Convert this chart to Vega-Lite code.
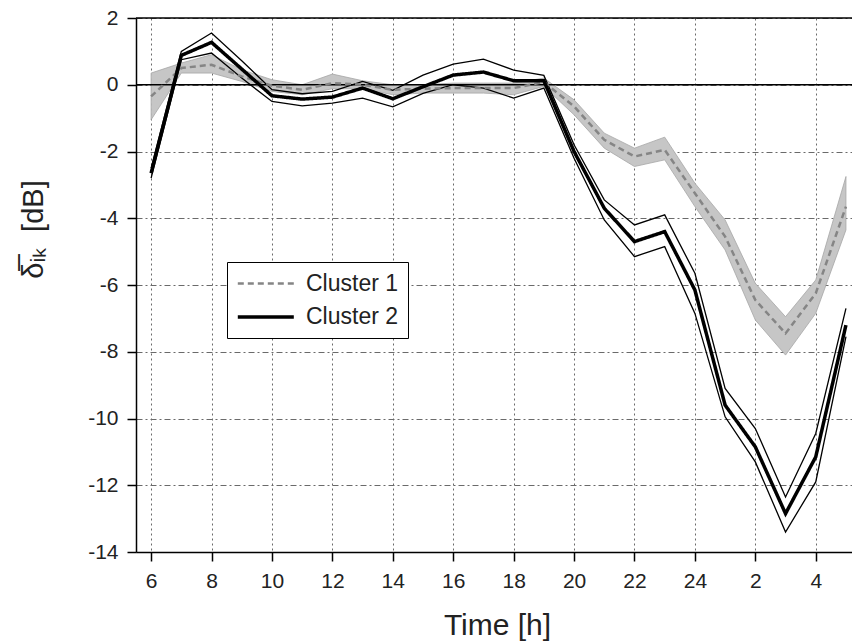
{
  "$schema": "https://vega.github.io/schema/vega-lite/v6.json",
  "width": 716,
  "height": 534,
  "autosize": {"type": "none"},
  "padding": {"left": 136, "top": 18, "right": 0, "bottom": 92},
  "background": "white",
  "config": {"view": {"stroke": null}, "font": "Liberation Sans"},
  "datasets": {
    "d": [
      {"h": 6, "cluster": "Cluster 1", "mean": -0.35, "lo": -1.05, "hi": 0.35},
      {"h": 7, "cluster": "Cluster 1", "mean": 0.5, "lo": 0.35, "hi": 0.65},
      {"h": 8, "cluster": "Cluster 1", "mean": 0.6, "lo": 0.35, "hi": 0.9},
      {"h": 9, "cluster": "Cluster 1", "mean": 0.25, "lo": 0.1, "hi": 0.45},
      {"h": 10, "cluster": "Cluster 1", "mean": -0.03, "lo": -0.2, "hi": 0.15},
      {"h": 11, "cluster": "Cluster 1", "mean": -0.15, "lo": -0.3, "hi": 0.0},
      {"h": 12, "cluster": "Cluster 1", "mean": 0.05, "lo": -0.12, "hi": 0.32},
      {"h": 13, "cluster": "Cluster 1", "mean": 0.0, "lo": -0.12, "hi": 0.12},
      {"h": 14, "cluster": "Cluster 1", "mean": -0.15, "lo": -0.3, "hi": 0.0},
      {"h": 15, "cluster": "Cluster 1", "mean": -0.12, "lo": -0.25, "hi": 0.0},
      {"h": 16, "cluster": "Cluster 1", "mean": -0.1, "lo": -0.25, "hi": 0.05},
      {"h": 17, "cluster": "Cluster 1", "mean": -0.1, "lo": -0.25, "hi": 0.05},
      {"h": 18, "cluster": "Cluster 1", "mean": -0.1, "lo": -0.3, "hi": 0.05},
      {"h": 19, "cluster": "Cluster 1", "mean": 0.08, "lo": -0.05, "hi": 0.2},
      {"h": 20, "cluster": "Cluster 1", "mean": -0.65, "lo": -0.9, "hi": -0.45},
      {"h": 21, "cluster": "Cluster 1", "mean": -1.65, "lo": -1.9, "hi": -1.45},
      {"h": 22, "cluster": "Cluster 1", "mean": -2.15, "lo": -2.45, "hi": -1.9},
      {"h": 23, "cluster": "Cluster 1", "mean": -1.95, "lo": -2.25, "hi": -1.57},
      {"h": 24, "cluster": "Cluster 1", "mean": -3.25, "lo": -3.65, "hi": -2.95},
      {"h": 25, "cluster": "Cluster 1", "mean": -4.55, "lo": -4.95, "hi": -4.05},
      {"h": 26, "cluster": "Cluster 1", "mean": -6.45, "lo": -7.05, "hi": -5.95},
      {"h": 27, "cluster": "Cluster 1", "mean": -7.45, "lo": -8.1, "hi": -6.95},
      {"h": 28, "cluster": "Cluster 1", "mean": -6.25, "lo": -6.85, "hi": -5.85},
      {"h": 29, "cluster": "Cluster 1", "mean": -3.65, "lo": -4.35, "hi": -2.75},
      {"h": 6, "cluster": "Cluster 2", "mean": -2.65, "lo": -2.8, "hi": -2.5},
      {"h": 7, "cluster": "Cluster 2", "mean": 0.88, "lo": 0.75, "hi": 1.0},
      {"h": 8, "cluster": "Cluster 2", "mean": 1.27, "lo": 0.95, "hi": 1.55},
      {"h": 9, "cluster": "Cluster 2", "mean": 0.47, "lo": 0.2, "hi": 0.72},
      {"h": 10, "cluster": "Cluster 2", "mean": -0.33, "lo": -0.5, "hi": -0.15},
      {"h": 11, "cluster": "Cluster 2", "mean": -0.43, "lo": -0.63, "hi": -0.27},
      {"h": 12, "cluster": "Cluster 2", "mean": -0.37, "lo": -0.55, "hi": -0.2},
      {"h": 13, "cluster": "Cluster 2", "mean": -0.1, "lo": -0.4, "hi": 0.1},
      {"h": 14, "cluster": "Cluster 2", "mean": -0.42, "lo": -0.66, "hi": -0.17},
      {"h": 15, "cluster": "Cluster 2", "mean": -0.06, "lo": -0.26, "hi": 0.29},
      {"h": 16, "cluster": "Cluster 2", "mean": 0.29, "lo": 0.0, "hi": 0.62},
      {"h": 17, "cluster": "Cluster 2", "mean": 0.38, "lo": -0.1, "hi": 0.77},
      {"h": 18, "cluster": "Cluster 2", "mean": 0.12, "lo": -0.4, "hi": 0.44},
      {"h": 19, "cluster": "Cluster 2", "mean": 0.12, "lo": -0.1, "hi": 0.28},
      {"h": 20, "cluster": "Cluster 2", "mean": -2.0, "lo": -2.2, "hi": -1.8},
      {"h": 21, "cluster": "Cluster 2", "mean": -3.7, "lo": -4.05, "hi": -3.45},
      {"h": 22, "cluster": "Cluster 2", "mean": -4.7, "lo": -5.15, "hi": -4.2},
      {"h": 23, "cluster": "Cluster 2", "mean": -4.4, "lo": -4.85, "hi": -3.9},
      {"h": 24, "cluster": "Cluster 2", "mean": -6.15, "lo": -6.85, "hi": -5.65},
      {"h": 25, "cluster": "Cluster 2", "mean": -9.6, "lo": -9.95, "hi": -9.1},
      {"h": 26, "cluster": "Cluster 2", "mean": -10.85, "lo": -11.3, "hi": -10.3},
      {"h": 27, "cluster": "Cluster 2", "mean": -12.85, "lo": -13.4, "hi": -12.35},
      {"h": 28, "cluster": "Cluster 2", "mean": -11.15, "lo": -11.9, "hi": -10.45},
      {"h": 29, "cluster": "Cluster 2", "mean": -7.2, "lo": -7.55, "hi": -6.7}
    ],
    "refs": [{"v": 0}, {"v": 2}]
  },
  "layer": [
    {
      "data": {"name": "d"},
      "mark": {"type": "line", "strokeJoin": "miter", "opacity": 0},
      "encoding": {
        "x": {
          "field": "h", "type": "quantitative",
          "scale": {"domain": [5.5, 29.2], "nice": false, "zero": false},
          "axis": {
            "values": [6, 7, 8, 9, 10, 11, 12, 13, 14, 15, 16, 17, 18, 19, 20, 21, 22, 23, 24, 25, 26, 27, 28, 29],
            "labelExpr": "datum.value % 2 == 0 ? (datum.value > 24 ? '' + (datum.value - 24) : '' + datum.value) : ''",
            "tickSize": {"condition": {"test": "datum.value % 2 == 0", "value": 9}, "value": 5},
            "gridOpacity": {"condition": {"test": "datum.value % 2 == 0", "value": 1}, "value": 0},
            "grid": true, "gridDash": [2, 3], "gridColor": "#6a6a6a", "gridWidth": 1,
            "domainColor": "black", "domainWidth": 1.5, "tickColor": "black", "tickWidth": 1.5,
            "labelFontSize": 21, "labelColor": "#222222", "labelPadding": 9, "labelFlush": false, "labelOverlap": false,
            "title": "Time [h]", "titleFontSize": 30, "titleFontWeight": "normal", "titleColor": "#222222",
            "titleX": 361, "titleY": 82, "titleBaseline": "alphabetic", "titleAlign": "center"
          }
        },
        "y": {
          "field": "mean", "type": "quantitative",
          "scale": {"domain": [-14, 2], "nice": false, "zero": false},
          "axis": {
            "values": [-14, -13, -12, -11, -10, -9, -8, -7, -6, -5, -4, -3, -2, -1, 0, 1, 2],
            "labelExpr": "datum.value % 2 == 0 ? '' + datum.value : ''",
            "tickSize": {"condition": {"test": "datum.value % 2 == 0", "value": 9}, "value": 6},
            "gridOpacity": {"condition": {"test": "datum.value % 2 == 0", "value": 1}, "value": 0},
            "grid": true, "gridDash": [6, 3, 2, 3], "gridColor": "#6a6a6a", "gridWidth": 1,
            "domainColor": "black", "domainWidth": 1.5, "tickColor": "black", "tickWidth": 1.5,
            "labelFontSize": 21, "labelColor": "#222222", "labelPadding": 9, "labelFlush": false, "labelOverlap": false,
            "title": "δ̅ᵢₖ\u00a0 [dB]", "titleFontSize": 29, "titleFontWeight": "normal", "titleColor": "#222222",
            "titleAngle": -90, "titleX": -94, "titleY": 211, "titleBaseline": "alphabetic", "titleAlign": "center"
          }
        },
        "detail": {"field": "cluster"}
      }
    },
    {
      "data": {"name": "d"},
      "transform": [{"filter": "datum.cluster == 'Cluster 1'"}],
      "mark": {"type": "area", "fill": "#c6c6c6", "stroke": "#a6a6a6", "strokeWidth": 0.8, "opacity": 1},
      "encoding": {
        "x": {"field": "h", "type": "quantitative"},
        "y": {"field": "lo", "type": "quantitative"},
        "y2": {"field": "hi"}
      }
    },
    {
      "data": {"name": "refs"},
      "mark": {"type": "rule", "color": "black", "strokeWidth": 1.3},
      "encoding": {
        "y": {"field": "v", "type": "quantitative"}
      }
    },
    {
      "data": {"name": "d"},
      "transform": [{"filter": "datum.cluster == 'Cluster 2'"}],
      "mark": {"type": "line", "color": "black", "strokeWidth": 1.3},
      "encoding": {
        "x": {"field": "h", "type": "quantitative"},
        "y": {"field": "lo", "type": "quantitative"}
      }
    },
    {
      "data": {"name": "d"},
      "transform": [{"filter": "datum.cluster == 'Cluster 2'"}],
      "mark": {"type": "line", "color": "black", "strokeWidth": 1.3},
      "encoding": {
        "x": {"field": "h", "type": "quantitative"},
        "y": {"field": "hi", "type": "quantitative"}
      }
    },
    {
      "data": {"name": "d"},
      "mark": {"type": "line", "strokeJoin": "miter"},
      "encoding": {
        "x": {"field": "h", "type": "quantitative"},
        "y": {"field": "mean", "type": "quantitative"},
        "color": {
          "field": "cluster", "type": "nominal",
          "scale": {"domain": ["Cluster 1", "Cluster 2"], "range": ["#858585", "#000000"]},
          "legend": {"orient": "none", "legendX": 91, "legendY": 244, "title": null, "direction": "vertical", "strokeColor": "black", "fillColor": "white", "padding": 9, "symbolType": "M-1,0H4", "symbolSize": 502, "labelFontSize": 23, "labelColor": "#222222", "labelOffset": 44, "rowPadding": 8}
        },
        "strokeDash": {
          "field": "cluster", "type": "nominal",
          "scale": {"domain": ["Cluster 1", "Cluster 2"], "range": [[6, 4], [1, 0]]},
          "legend": {"orient": "none", "legendX": 91, "legendY": 244, "title": null, "direction": "vertical", "strokeColor": "black", "fillColor": "white", "padding": 9, "symbolType": "M-1,0H4", "symbolSize": 502, "labelFontSize": 23, "labelColor": "#222222", "labelOffset": 44, "rowPadding": 8}
        },
        "strokeWidth": {
          "field": "cluster", "type": "ordinal",
          "scale": {"domain": ["Cluster 1", "Cluster 2"], "range": [2.5, 3.5]},
          "legend": {"orient": "none", "legendX": 91, "legendY": 244, "title": null, "direction": "vertical", "strokeColor": "black", "fillColor": "white", "padding": 9, "symbolType": "M-1,0H4", "symbolSize": 502, "labelFontSize": 23, "labelColor": "#222222", "labelOffset": 44, "rowPadding": 8}
        }
      }
    }
  ]
}
